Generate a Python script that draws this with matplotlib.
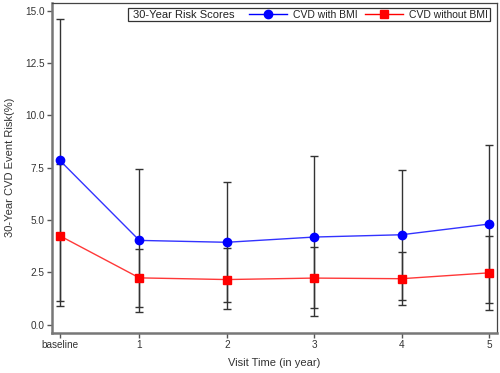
import matplotlib
matplotlib.use("Agg")
import matplotlib.pyplot as plt
from matplotlib.patches import Rectangle

plt.rcParams['font.family'] = ['Liberation Sans', 'DejaVu Sans']

# visit positions (baseline sits a little right of 0 on the year axis)
visit_pos = [0.09, 1, 2, 3, 4, 5]
visit_labels = ['baseline', '1', '2', '3', '4', '5']

# CVD risk with BMI
bmi_mean = [7.84, 4.02, 3.93, 4.18, 4.29, 4.80]
bmi_lower = [1.11, 0.60, 1.06, 0.41, 1.17, 1.01]
bmi_upper = [14.58, 7.41, 6.82, 8.05, 7.38, 8.60]

# CVD risk without BMI
nobmi_mean = [4.24, 2.23, 2.15, 2.22, 2.19, 2.47]
nobmi_lower = [0.90, 0.82, 0.73, 0.77, 0.94, 0.70]
nobmi_upper = [7.66, 3.63, 3.64, 3.69, 3.46, 4.24]

text_col = '#333333'

fig = plt.figure(figsize=(5.0, 3.73), dpi=100)
ax = fig.add_axes([0.104, 0.108, 0.889, 0.885])


def draw_errbars(mean, lo, hi):
    yerr = [[m - l for m, l in zip(mean, lo)], [h - m for m, h in zip(mean, hi)]]
    ax.errorbar(visit_pos, mean, yerr=yerr, fmt='none', ecolor='#333333',
                elinewidth=1.0, capsize=2.7, capthick=1.0, zorder=2)


draw_errbars(bmi_mean, bmi_lower, bmi_upper)
draw_errbars(nobmi_mean, nobmi_lower, nobmi_upper)

ax.plot(visit_pos, bmi_mean, color='#3333ff', lw=1.0, zorder=3)
ax.plot(visit_pos, bmi_mean, 'o', color='#0000ff', ms=6, mec='#0000ff', zorder=4)
ax.plot(visit_pos, nobmi_mean, color='#ff3838', lw=1.0, zorder=3)
ax.plot(visit_pos, nobmi_mean, 's', color='#ff0000', ms=5.6, mec='#ff0000', zorder=4)

ax.set_xlim(0, 5.087)
ax.set_ylim(-0.39, 15.38)
ax.set_xticks(visit_pos)
ax.set_xticklabels(visit_labels)
ax.set_yticks([0, 2.5, 5, 7.5, 10, 12.5, 15])
ax.set_yticklabels(['0.0', '2.5', '5.0', '7.5', '10.0', '12.5', '15.0'])
ax.tick_params(direction='out', length=3.8, width=1, color='#555555',
               labelsize=7.2, labelcolor=text_col, pad=1.5)

for side in ['left', 'bottom']:
    ax.spines[side].set_linewidth(1.8)
    ax.spines[side].set_color('#777777')
for side in ['top', 'right']:
    ax.spines[side].set_linewidth(0.9)
    ax.spines[side].set_color('#444444')

ax.set_xlabel('Visit Time (in year)', fontsize=8, color=text_col, labelpad=6)
ax.set_ylabel('30-Year CVD Event Risk(%)', fontsize=8, color=text_col, labelpad=7)

# legend: boxed title on the left, entries in a row
box = Rectangle((0.255, 0.9445), 0.725, 0.0332, transform=fig.transFigure,
                fill=True, facecolor='white', edgecolor='#333333', lw=0.9, zorder=5)
fig.patches.append(box)
fig.text(0.266, 0.961, '30-Year Risk Scores', fontsize=8, color='#222222',
         va='center', zorder=6)

h1, = ax.plot([], [], '-o', color='#0000ff', ms=6, lw=1.0)
h2, = ax.plot([], [], '-s', color='#ff0000', ms=5.6, lw=1.0)
leg = fig.legend([h1, h2], ['CVD with BMI', 'CVD without BMI'], ncol=2,
                 loc='center right', bbox_to_anchor=(0.976, 0.961),
                 frameon=False, fontsize=7.5, handlelength=3.65,
                 columnspacing=0.77, handletextpad=0.55, borderpad=0, borderaxespad=0)
for t in leg.get_texts():
    t.set_color('#222222')
leg.set_zorder(7)

fig.savefig('out.png', dpi=100)
